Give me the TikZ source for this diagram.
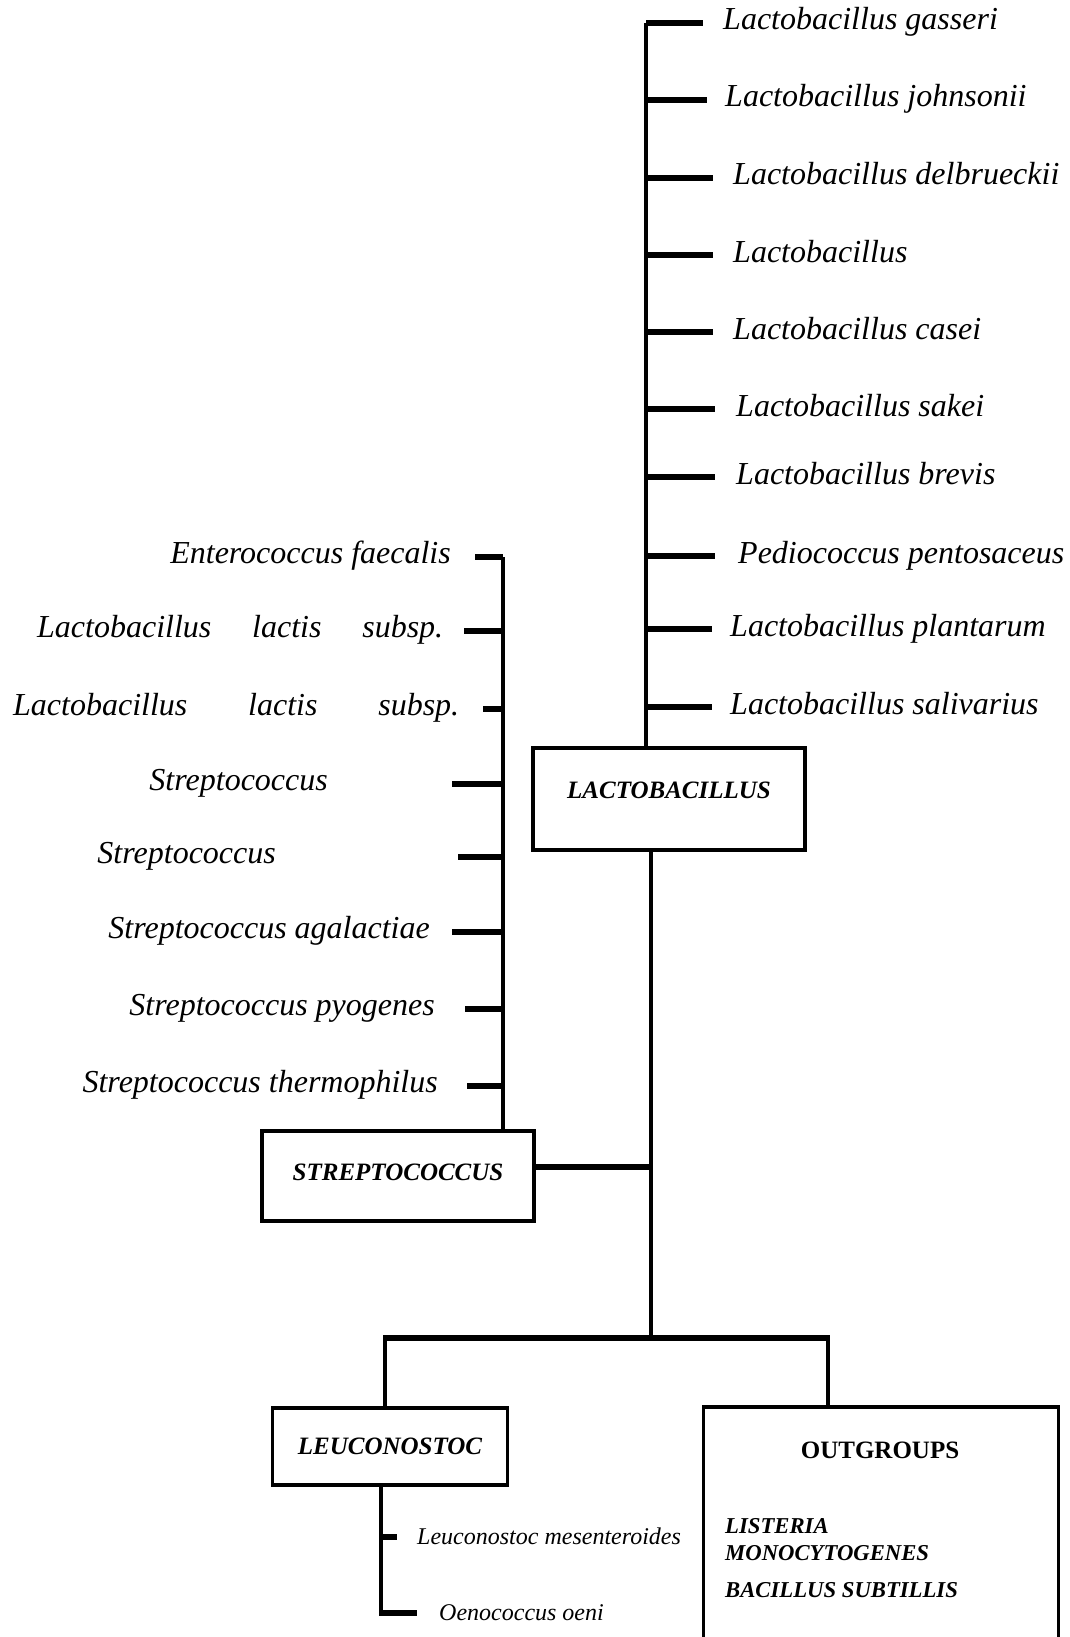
\documentclass[tikz,border=0pt]{standalone}
\usepackage{fontspec}
\setmainfont{Liberation Serif}
\begin{document}
\begin{tikzpicture}[x=1pt,y=-1pt,
  vline/.style={line width=3.4pt},
  tickln/.style={line width=6pt},
  hbar/.style={line width=6.5pt},
  boxst/.style={draw, line width=3.5pt, rectangle, inner sep=0pt},
  sp/.style={font=\fontsize{32}{38}\selectfont\itshape, inner sep=0pt},
  boxlbl/.style={font=\fontsize{25}{30}\selectfont\bfseries\itshape, inner sep=0pt},
  smallsp/.style={font=\fontsize{24}{29}\selectfont\itshape, inner sep=0pt, anchor=base west},
  ogl/.style={font=\fontsize{22.7}{27}\selectfont\bfseries\itshape, inner sep=0pt, anchor=base west}]
\useasboundingbox (0,0) rectangle (1069,1637);
\clip (0,0) rectangle (1069,1637);
\fill[white] (0,0) rectangle (1069,1637);

% boxes
\node[boxst, minimum width=272pt, minimum height=102pt] (lacto) at (669,799) {};
\node[boxlbl] (lactolbl) at ([yshift=9pt]lacto.center) {LACTOBACILLUS};
\node[boxst, minimum width=272pt, minimum height=90pt] (strep) at (398,1176) {};
\node[boxlbl] (streplbl) at ([yshift=4pt]strep.center) {STREPTOCOCCUS};
\node[boxst, minimum width=235pt, minimum height=77pt] (leuco) at (390,1446.5) {};
\node[boxlbl] (leucolbl) at (leuco.center) {LEUCONOSTOC};
\node[boxst, minimum width=355pt, minimum height=300pt] (out) at (881,1557) {};
\node[font=\fontsize{25}{30}\selectfont\bfseries, inner sep=0pt] (outlbl) at (880,1450) {OUTGROUPS};
\node[ogl] (og1) at (725,1533) {LISTERIA};
\node[ogl] (og2) at (725,1560) {MONOCYTOGENES};
\node[ogl] (og3) at (725,1597) {BACILLUS SUBTILLIS};

% right column (Lactobacillus cluster)
\coordinate (rtop) at (646,23);
\draw[vline] (rtop) -- (rtop |- lacto.north);
\foreach \n/\y/\e/\tx/\t in {
  r1/23/703/723/{Lactobacillus gasseri},
  r2/100/707/725/{Lactobacillus johnsonii},
  r3/178/713/733/{Lactobacillus delbrueckii},
  r4/255/713/733/{Lactobacillus},
  r5/332/713/733/{Lactobacillus casei},
  r6/409/715/736/{Lactobacillus sakei},
  r7/477/715/736/{Lactobacillus brevis},
  r8/556/715/738/{Pediococcus pentosaceus},
  r9/629/712/730/{Lactobacillus plantarum},
  r10/707/712/730/{Lactobacillus salivarius}} {
  \coordinate (\n-a) at (646,\y);
  \coordinate (\n-b) at (\e,\y);
  \node[sp, anchor=base west] (\n) at (\tx,\y+7) {\t};
  \draw[tickln] (\n-a) -- (\n-b);
}

% left column (Streptococcus cluster)
\coordinate (ltop) at (503,557);
\draw[vline] (ltop) -- (ltop |- strep.north);
\foreach \n/\y/\s/\tx/\t in {
  l1/557/475/451/{Enterococcus faecalis},
  l4/784/452/328/{Streptococcus},
  l5/857/458/276/{Streptococcus},
  l6/932/452/430/{Streptococcus agalactiae},
  l7/1009/465/435/{Streptococcus pyogenes},
  l8/1086/467/438/{Streptococcus thermophilus}} {
  \coordinate (\n-a) at (503,\y);
  \coordinate (\n-b) at (\s,\y);
  \node[sp, anchor=base east] (\n) at (\tx,\y+6) {\t};
  \draw[tickln] (\n-a) -- (\n-b);
}
\coordinate (l2-a) at (503,631);
\coordinate (l2-b) at (464,631);
\node[sp, anchor=base west] (l2) at (37,637) {\makebox[406pt][s]{Lactobacillus lactis subsp.}};
\draw[tickln] (l2-a) -- (l2-b);
\coordinate (l3-a) at (503,709);
\coordinate (l3-b) at (483,709);
\node[sp, anchor=base west] (l3) at (13,715) {\makebox[446pt][s]{Lactobacillus lactis subsp.}};
\draw[tickln] (l3-a) -- (l3-b);

% backbone
\coordinate (j1) at (651,1167);
\coordinate (j2) at (651,1338);
\draw[vline] (lacto.south -| j1) -- (j2);
\draw[hbar] (strep.east |- j1) -- (j1);
\coordinate (bl) at (385,1338);
\coordinate (br) at (828,1338);
\draw[hbar] ([xshift=-1.7pt]bl) -- ([xshift=1.7pt]br);
\draw[vline] (bl) -- (bl |- leuco.north);
\draw[vline] (br) -- (br |- out.north);

% Leuconostoc cluster
\coordinate (lt) at (381,1485);
\coordinate (lm) at (381,1537);
\coordinate (lb) at (381,1613);
\coordinate (lm-b) at (397,1537);
\coordinate (lb-b) at (417,1613);
\draw[vline] (lt) -- (lb);
\draw[tickln] (lm) -- (lm-b);
\draw[tickln] ([xshift=-1.7pt]lb) -- (lb-b);
\node[smallsp] (m1) at (417,1544) {Leuconostoc mesenteroides};
\node[smallsp] (m2) at (439,1620) {Oenococcus oeni};
\end{tikzpicture}
\end{document}
